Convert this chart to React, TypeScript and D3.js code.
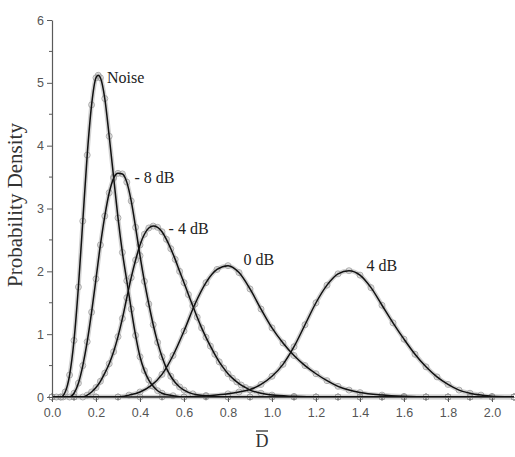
import React, { useRef, useEffect } from 'react';
import * as d3 from 'd3';

// values: [D, density]
const noiseData = [
  [0.0, 0], [0.02, 0], [0.04, 0], [0.06, 0.08], [0.08, 0.35], [0.10, 0.9], [0.12, 1.75], [0.14, 2.8],
  [0.16, 3.85], [0.18, 4.65], [0.20, 5.08], [0.21, 5.12], [0.22, 5.08], [0.24, 4.75], [0.26, 4.15],
  [0.28, 3.5], [0.30, 2.85], [0.32, 2.3], [0.34, 1.85], [0.36, 1.4], [0.38, 0.98], [0.40, 0.64],
  [0.42, 0.42], [0.44, 0.27], [0.46, 0.17], [0.48, 0.1], [0.50, 0.06], [0.55, 0.02], [0.6, 0],
  [0.7, 0], [0.8, 0], [0.9, 0], [1.0, 0], [1.1, 0], [1.2, 0], [1.3, 0], [1.4, 0], [1.5, 0], [1.6, 0],
  [1.7, 0], [1.8, 0], [1.9, 0], [2.0, 0], [2.1, 0],
];

const minus8Data = [
  [0.0, 0], [0.04, 0], [0.08, 0], [0.10, 0.06], [0.12, 0.22], [0.14, 0.5], [0.16, 0.88], [0.18, 1.35],
  [0.20, 1.88], [0.22, 2.42], [0.24, 2.88], [0.26, 3.25], [0.28, 3.48], [0.30, 3.56], [0.32, 3.55],
  [0.34, 3.42], [0.36, 3.12], [0.38, 2.7], [0.40, 2.25], [0.42, 1.84], [0.44, 1.48], [0.46, 1.15],
  [0.48, 0.87], [0.50, 0.64], [0.52, 0.46], [0.54, 0.33], [0.56, 0.23], [0.58, 0.16], [0.60, 0.11],
  [0.64, 0.05], [0.70, 0.02], [0.8, 0], [0.9, 0], [1.0, 0], [1.1, 0], [1.2, 0], [1.3, 0], [1.4, 0],
  [1.5, 0], [1.6, 0], [1.7, 0], [1.8, 0], [1.9, 0], [2.0, 0], [2.1, 0],
];

const minus4Data = [
  [0.0, 0], [0.05, 0], [0.10, 0], [0.14, 0], [0.16, 0.03], [0.18, 0.08], [0.20, 0.15], [0.22, 0.25],
  [0.24, 0.38], [0.26, 0.53], [0.28, 0.72], [0.30, 0.96], [0.32, 1.25], [0.34, 1.58], [0.36, 1.9],
  [0.38, 2.18], [0.40, 2.42], [0.42, 2.59], [0.44, 2.69], [0.46, 2.72], [0.48, 2.7], [0.50, 2.63],
  [0.52, 2.51], [0.54, 2.36], [0.56, 2.19], [0.58, 2.0], [0.60, 1.82], [0.62, 1.63], [0.64, 1.45],
  [0.66, 1.27], [0.68, 1.1], [0.70, 0.95], [0.72, 0.81], [0.74, 0.68], [0.76, 0.56], [0.78, 0.46],
  [0.80, 0.37], [0.82, 0.3], [0.84, 0.24], [0.86, 0.19], [0.88, 0.15], [0.90, 0.11], [0.95, 0.06],
  [1.0, 0.03], [1.1, 0.01], [1.2, 0], [1.3, 0], [1.4, 0], [1.5, 0], [1.6, 0], [1.7, 0], [1.8, 0],
  [1.9, 0], [2.0, 0], [2.1, 0],
];

const zeroDbData = [
  [0.0, 0], [0.1, 0], [0.2, 0], [0.30, 0], [0.35, 0.03], [0.40, 0.08], [0.45, 0.18], [0.50, 0.36],
  [0.55, 0.66], [0.60, 1.05], [0.65, 1.48], [0.70, 1.82], [0.75, 2.03], [0.80, 2.09], [0.85, 1.98],
  [0.90, 1.72], [0.95, 1.4], [1.00, 1.1], [1.05, 0.86], [1.10, 0.66], [1.15, 0.5], [1.20, 0.37],
  [1.25, 0.26], [1.30, 0.17], [1.35, 0.11], [1.40, 0.07], [1.50, 0.03], [1.60, 0.01], [1.70, 0],
  [1.8, 0], [1.9, 0], [2.0, 0], [2.1, 0],
];

const fourDbData = [
  [0.0, 0], [0.1, 0], [0.2, 0], [0.3, 0], [0.4, 0], [0.5, 0], [0.60, 0], [0.70, 0.02], [0.80, 0.05],
  [0.85, 0.08], [0.90, 0.12], [0.95, 0.2], [1.00, 0.33], [1.05, 0.52], [1.10, 0.8], [1.15, 1.15],
  [1.20, 1.5], [1.25, 1.78], [1.30, 1.96], [1.35, 2.01], [1.40, 1.94], [1.45, 1.74], [1.50, 1.46],
  [1.55, 1.18], [1.60, 0.92], [1.65, 0.68], [1.70, 0.48], [1.75, 0.32], [1.80, 0.2], [1.85, 0.11],
  [1.90, 0.06], [1.95, 0.03], [2.00, 0.01], [2.1, 0],
];

const seriesList = [noiseData, minus8Data, minus4Data, zeroDbData, fourDbData];
const seriesLabels = ['Noise', '- 8 dB', '- 4 dB', '0 dB', '4 dB'];
// where each label sits, in data units
const labelPos = [[0.25, 5.0], [0.375, 3.4], [0.53, 2.6], [0.87, 2.1], [1.43, 2.0]];

const xTicks = [0.0, 0.2, 0.4, 0.6, 0.8, 1.0, 1.2, 1.4, 1.6, 1.8, 2.0];
const yTicks = [0, 1, 2, 3, 4, 5, 6];

const width = 515;
const height = 457;

const App = () => {
  const svgRef = useRef<SVGSVGElement>(null);

  useEffect(() => {
    const svg = d3.select(svgRef.current);
    svg.selectAll('*').remove();

    const x = d3.scaleLinear().domain([0, 2.1]).range([52, 514]);
    const y = d3.scaleLinear().domain([0, 6]).range([397, 20]);

    const line = d3.line<number[]>()
      .x(d => x(d[0]))
      .y(d => y(d[1]))
      .curve(d3.curveMonotoneX);

    const axisColor = '#5a5a5a';

    // gray band that the dense markers make around each curve
    svg.append('g')
      .selectAll('path')
      .data(seriesList)
      .enter().append('path')
      .attr('d', line)
      .attr('fill', 'none')
      .attr('stroke', '#d2d2d2')
      .attr('stroke-width', 4.5);

    seriesList.forEach(s => {
      svg.append('g')
        .selectAll('circle')
        .data(s)
        .enter().append('circle')
        .attr('cx', d => x(d[0]))
        .attr('cy', d => y(d[1]))
        .attr('r', 3)
        .attr('fill', 'none')
        .attr('stroke', '#999')
        .attr('stroke-width', 0.8);
    });

    svg.append('g')
      .selectAll('path')
      .data(seriesList)
      .enter().append('path')
      .attr('d', line)
      .attr('fill', 'none')
      .attr('stroke', '#111')
      .attr('stroke-width', 1.5);

    // x axis
    const xAxis = d3.axisBottom(x)
      .tickValues(xTicks)
      .tickFormat(d3.format('.1f'))
      .tickSize(5)
      .tickSizeOuter(0);
    const gx = svg.append('g').attr('transform', `translate(0,${y(0)})`).call(xAxis);
    gx.selectAll('line').attr('stroke', axisColor);
    gx.select('.domain').attr('stroke', axisColor).attr('stroke-width', 1.2);
    gx.selectAll('text')
      .attr('fill', '#555')
      .attr('font-family', 'Liberation Sans, Arial, sans-serif')
      .attr('font-size', 12.5)
      .attr('dy', '0.95em');

    const xMinor = d3.range(0.1, 2.1, 0.2);
    svg.append('g')
      .selectAll('line')
      .data(xMinor)
      .enter().append('line')
      .attr('x1', d => x(d)).attr('x2', d => x(d))
      .attr('y1', y(0)).attr('y2', y(0) + 3)
      .attr('stroke', axisColor);

    // y axis
    const yAxis = d3.axisLeft(y)
      .tickValues(yTicks)
      .tickFormat(d3.format('d'))
      .tickSize(5)
      .tickSizeOuter(0);
    const gy = svg.append('g').attr('transform', `translate(${x(0)},0)`).call(yAxis);
    gy.selectAll('line').attr('stroke', axisColor);
    gy.select('.domain').attr('stroke', axisColor).attr('stroke-width', 1.2);
    gy.selectAll('text')
      .attr('fill', '#555')
      .attr('font-family', 'Liberation Sans, Arial, sans-serif')
      .attr('font-size', 12.5);

    const yMinor = d3.range(0.5, 6, 1);
    svg.append('g')
      .selectAll('line')
      .data(yMinor)
      .enter().append('line')
      .attr('x1', x(0) - 3).attr('x2', x(0))
      .attr('y1', d => y(d)).attr('y2', d => y(d))
      .attr('stroke', axisColor);

    // curve labels
    svg.append('g')
      .selectAll('text')
      .data(seriesLabels)
      .enter().append('text')
      .attr('x', (d, i) => x(labelPos[i][0]))
      .attr('y', (d, i) => y(labelPos[i][1]))
      .attr('font-family', 'Liberation Serif, Times New Roman, serif')
      .attr('font-size', 16)
      .attr('fill', '#222')
      .text(d => d);

    // axis titles
    svg.append('text')
      .attr('transform', 'translate(22,205) rotate(-90)')
      .attr('text-anchor', 'middle')
      .attr('font-family', 'Liberation Serif, Times New Roman, serif')
      .attr('font-size', 21)
      .attr('fill', '#333')
      .text('Probability Density');

    const xt = svg.append('g').attr('transform', 'translate(262,447)');
    xt.append('text')
      .attr('text-anchor', 'middle')
      .attr('font-family', 'Liberation Serif, Times New Roman, serif')
      .attr('font-size', 18)
      .attr('fill', '#333')
      .text('D');
    xt.append('line')
      .attr('x1', -6).attr('x2', 6)
      .attr('y1', -16).attr('y2', -16)
      .attr('stroke', '#333')
      .attr('stroke-width', 1.3);
  }, []);

  return (
    <div style={{ position: 'absolute', left: 0, top: 0 }}>
      <svg ref={svgRef} width={width} height={height}></svg>
    </div>
  );
};

export default App;
